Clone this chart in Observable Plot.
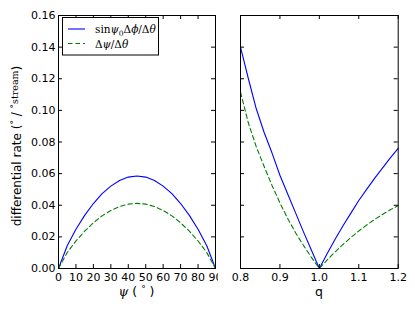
<!DOCTYPE html>
<html><head><meta charset="utf-8">
<script src="https://cdn.jsdelivr.net/npm/d3@7"></script>
<script src="https://cdn.jsdelivr.net/npm/@observablehq/plot@0.6"></script>
<style>
body{margin:0;background:#fff;}
#wrap{position:relative;width:415px;height:312px;overflow:hidden;background:#fff;font-family:"DejaVu Sans",sans-serif;}
#wrap svg{position:absolute;top:0;}
</style></head><body><div id="wrap"></div>
<script>
// ---- data ----
const psi = [0,5,10,15,20,25,30,35,40,45,50,55,60,65,70,75,80,85,90];
const psiSin = [0,0.0144,0.0248,0.0336,0.0411,0.0473,0.0521,0.0557,0.0578,0.0585,0.0578,0.0557,0.0521,0.0473,0.0411,0.0336,0.0248,0.0144,0];
const psiDpsi = [0,0.0101,0.0174,0.0236,0.0289,0.0333,0.0367,0.0392,0.0407,0.0412,0.0407,0.0392,0.0367,0.0333,0.0289,0.0236,0.0174,0.0101,0];
const q = [0.80,0.82,0.84,0.86,0.88,0.90,0.92,0.94,0.96,0.98,1.00,1.02,1.04,1.06,1.08,1.10,1.12,1.14,1.16,1.18,1.20];
const qSin = [0.140,0.120,0.101,0.086,0.073,0.059,0.047,0.035,0.023,0.0115,0,0.0095,0.0185,0.027,0.035,0.043,0.050,0.057,0.0635,0.070,0.076];
const qDpsi = [0.1115,0.092,0.077,0.0645,0.0525,0.0415,0.0315,0.0225,0.0145,0.007,0,0.0055,0.0105,0.0152,0.0196,0.0237,0.0275,0.031,0.0342,0.0371,0.0398];
const yTicks = [0,0.02,0.04,0.06,0.08,0.10,0.12,0.14,0.16];
const psiTicks = [0,10,20,30,40,50,60,70,80,90];
const qTicks = [0.8,0.9,1.0,1.1,1.2];
const seriesColors = ["#0000ff","#008000"];

const H = 312, MT = 15, MB = 44, TL = 4;

function panel({xs, s0, s1, xDomain, xTicks, width, ml, mr, showY, xfmt}) {
  const innerH = H - MT - MB, innerW = width - ml - mr;
  const d0 = xs.map((x,i)=>({x, y: s0[i]}));
  const d1 = xs.map((x,i)=>({x, y: s1[i]}));
  return Plot.plot({
    width, height: H, marginTop: MT, marginBottom: MB, marginLeft: ml, marginRight: mr,
    style: {fontFamily: "DejaVu Sans, sans-serif", fontSize: "11px", color: "black", background: "white", overflow: "visible"},
    x: {domain: xDomain, label: null, axis: null},
    y: {domain: [0, 0.16], label: null, axis: null},
    marks: [
      Plot.line(d0, {x: "x", y: "y", stroke: seriesColors[0], strokeWidth: 1.1}),
      Plot.line(d1, {x: "x", y: "y", stroke: seriesColors[1], strokeWidth: 1.1, strokeDasharray: "4.5,3"}),
      Plot.tickX(xTicks, {x: d => d, insetBottom: innerH - TL, stroke: "black"}),
      Plot.tickX(xTicks, {x: d => d, insetTop: innerH - TL, stroke: "black"}),
      Plot.tickY(yTicks, {y: d => d, insetRight: innerW - TL, stroke: "black"}),
      Plot.tickY(yTicks, {y: d => d, insetLeft: innerW - TL, stroke: "black"}),
      Plot.axisX(xTicks, {tickSize: 0, tickPadding: 5, tickFormat: xfmt, label: null, fontSize: 11}),
      showY ? Plot.axisY(yTicks, {tickSize: 0, tickPadding: 3, tickFormat: d => d.toFixed(2), label: null, fontSize: 11}) : null,
      Plot.frame({stroke: "black"})
    ]
  });
}

const left = panel({xs: psi, s0: psiSin, s1: psiDpsi, xDomain: [0, 90], xTicks: psiTicks, width: 218, ml: 58, mr: 3, showY: true, xfmt: d => String(d)});
const right = panel({xs: q, s0: qSin, s1: qDpsi, xDomain: [0.8, 1.2], xTicks: qTicks, width: 197, ml: 22, mr: 17.3, showY: false, xfmt: d => d.toFixed(1)});
right.style.left = "218px";
left.style.left = "0px";
const wrap = document.getElementById("wrap");
wrap.appendChild(left);
wrap.appendChild(right);

const serif = "'DejaVu Serif', 'Liberation Serif', serif";
// x labels
const L = d3.select(left);
const lx = L.append("text").attr("x", 136.5).attr("y", 296).attr("text-anchor", "middle")
  .attr("font-size", 12.5).attr("font-family", "DejaVu Sans, sans-serif").attr("fill", "black");
lx.append("tspan").attr("font-family", serif).attr("font-style", "italic").text("ψ");
lx.append("tspan").text(" ( ");
lx.append("tspan").attr("font-size", 9).attr("dy", -4).text("°");
lx.append("tspan").attr("dy", 4).text(" )");

d3.select(right).append("text").attr("x", 101).attr("y", 296).attr("text-anchor", "middle")
  .attr("font-size", 12.5).attr("font-family", "DejaVu Sans, sans-serif").attr("fill", "black").text("q");

// y label
const ly = L.append("text").attr("transform", "translate(21,146) rotate(-90)").attr("text-anchor", "middle")
  .attr("font-size", 12).attr("font-family", "DejaVu Sans, sans-serif").attr("fill", "black");
ly.append("tspan").text("differential rate (");
ly.append("tspan").attr("font-size", 9).attr("dy", -4).text("°");
ly.append("tspan").attr("dy", 4).attr("font-family", serif).text(" / ");
ly.append("tspan").attr("font-size", 9).attr("dy", -4).text("°");
ly.append("tspan").attr("font-size", 9.5).attr("dy", 1).attr("font-family", serif).text("stream");
ly.append("tspan").attr("dy", 3).text(")");

// legend
const lg = L.append("g").attr("text-anchor", "start");
lg.append("rect").attr("x", 62.5).attr("y", 17.5).attr("width", 96).attr("height", 37.5)
  .attr("fill", "white").attr("stroke", "black").attr("stroke-width", 1);
lg.append("line").attr("x1", 68).attr("x2", 85).attr("y1", 29).attr("y2", 29).attr("stroke", seriesColors[0]).attr("stroke-width", 1.1);
lg.append("line").attr("x1", 68).attr("x2", 85).attr("y1", 43.5).attr("y2", 43.5).attr("stroke", seriesColors[1]).attr("stroke-width", 1.1).attr("stroke-dasharray", "4.5,3");
const t1 = lg.append("text").attr("x", 95).attr("y", 33).attr("text-anchor", "start").attr("font-size", 10.5).attr("font-family", serif).attr("fill", "black");
t1.append("tspan").text("sin");
t1.append("tspan").attr("font-style", "italic").text("ψ");
t1.append("tspan").attr("font-size", 7.5).attr("dy", 2.5).text("0");
t1.append("tspan").attr("dy", -2.5).text("Δ");
t1.append("tspan").attr("font-style", "italic").text("ϕ");
t1.append("tspan").text("/Δ");
t1.append("tspan").attr("font-style", "italic").text("θ");
const t2 = lg.append("text").attr("x", 95).attr("y", 47.5).attr("text-anchor", "start").attr("font-size", 10.5).attr("font-family", serif).attr("fill", "black");
t2.append("tspan").text("Δ");
t2.append("tspan").attr("font-style", "italic").text("ψ");
t2.append("tspan").text("/Δ");
t2.append("tspan").attr("font-style", "italic").text("θ");
</script></body></html>
